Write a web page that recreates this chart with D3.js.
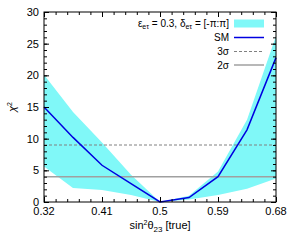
<!DOCTYPE html>
<html>
<head>
<meta charset="utf-8">
<script src="https://cdn.jsdelivr.net/npm/d3@7"></script>
<style>
  body { margin: 0; background: #fff; }
  text { font-family: "Liberation Sans", Arial, sans-serif; fill: #000; }
</style>
</head>
<body>
<script>
// data
var sin2 = [0.32, 0.365, 0.41, 0.455, 0.5, 0.545, 0.59, 0.635, 0.68];
var smChi2 = [15, 10.2, 5.8, 2.9, 0, 0.7, 4.0, 11.4, 22.8];
var bandHi = [20.1, 14.2, 9.4, 4.3, 0, 1.0, 4.8, 13.0, 26.2];
var bandLo = [5.6, 2.2, 1.9, 1.1, 0, 0.4, 1.1, 2.1, 3.7];
var xTicks = [0.32, 0.41, 0.5, 0.59, 0.68];
var yTicks = [0, 5, 10, 15, 20, 25, 30];
var sigma3 = 9, sigma2 = 4;

var width = 294,
    height = 245;

// plot box (note: "top" is taken by window.top, so use other names)
var plotL = 44, plotR = 276, plotT = 12, plotB = 202;

var x = d3.scaleLinear().domain([0.32, 0.68]).range([plotL, plotR]);
var y = d3.scaleLinear().domain([0, 30]).range([plotB, plotT]);

var svg = d3.select('body')
  .append('svg')
  .attr('width', width)
  .attr('height', height);

var pts = sin2.map(function(d, i) { return i; });

// cyan band
var area = d3.area()
  .x(function(i) { return x(sin2[i]); })
  .y0(function(i) { return y(bandLo[i]); })
  .y1(function(i) { return y(bandHi[i]); });

svg.append('path')
  .datum(pts)
  .attr('d', area)
  .attr('fill', '#80f8f8');

// sigma lines
svg.append('line')
  .attr('x1', plotL).attr('x2', plotR)
  .attr('y1', y(sigma3)).attr('y2', y(sigma3))
  .attr('stroke', '#808080')
  .attr('stroke-width', 1)
  .attr('stroke-dasharray', '3,2');

svg.append('line')
  .attr('x1', plotL).attr('x2', plotR)
  .attr('y1', y(sigma2)).attr('y2', y(sigma2))
  .attr('stroke', '#a0a0a0')
  .attr('stroke-width', 1.5);

// SM curve
var line = d3.line()
  .x(function(i) { return x(sin2[i]); })
  .y(function(i) { return y(smChi2[i]); });

svg.append('path')
  .datum(pts)
  .attr('d', line)
  .attr('fill', 'none')
  .attr('stroke', '#0000e0')
  .attr('stroke-width', 1.5);

// axes, gnuplot style: ticks inward on all four sides
var yMinor = d3.range(0, 31, 1);
var xMinor = d3.range(0, 21).map(function(k) { return 0.32 + k * 0.018; });

function tickRow(axisFn, scale, pos, vals, size) {
  var a = axisFn(scale).tickValues(vals).tickSize(size).tickFormat('');
  var g = svg.append('g').attr('transform', pos).call(a);
  g.select('.domain').remove();
  g.selectAll('line').attr('stroke', '#000');
}

tickRow(d3.axisRight, y, 'translate(' + plotL + ',0)', yMinor, 3);
tickRow(d3.axisRight, y, 'translate(' + plotL + ',0)', yTicks, 5);
tickRow(d3.axisLeft, y, 'translate(' + plotR + ',0)', yMinor, 3);
tickRow(d3.axisLeft, y, 'translate(' + plotR + ',0)', yTicks, 5);
tickRow(d3.axisTop, x, 'translate(0,' + plotB + ')', xMinor, 3);
tickRow(d3.axisTop, x, 'translate(0,' + plotB + ')', xTicks, 5);
tickRow(d3.axisBottom, x, 'translate(0,' + plotT + ')', xMinor, 3);
tickRow(d3.axisBottom, x, 'translate(0,' + plotT + ')', xTicks, 5);

// frame
svg.append('rect')
  .attr('x', plotL).attr('y', plotT)
  .attr('width', plotR - plotL).attr('height', plotB - plotT)
  .attr('fill', 'none')
  .attr('stroke', '#000')
  .attr('stroke-width', 1);

// tick labels
svg.selectAll('.ylab')
  .data(yTicks)
  .enter().append('text')
  .attr('x', plotL - 5)
  .attr('y', function(d) { return y(d) + 4; })
  .attr('text-anchor', 'end')
  .attr('font-size', 11)
  .text(function(d) { return d; });

svg.selectAll('.xlab')
  .data(xTicks)
  .enter().append('text')
  .attr('x', function(d) { return x(d); })
  .attr('y', 215)
  .attr('text-anchor', 'middle')
  .attr('font-size', 11)
  .text(function(d) { return d; });

// axis titles
var xt = svg.append('text')
  .attr('x', 160).attr('y', 229)
  .attr('text-anchor', 'middle')
  .attr('font-size', 11);
xt.append('tspan').text('sin');
xt.append('tspan').attr('dy', -4).attr('font-size', 7).text('2');
xt.append('tspan').attr('dy', 4).text('θ');
xt.append('tspan').attr('dy', 3).attr('font-size', 8).text('23');
xt.append('tspan').attr('dy', -3).text(' [true]');

var yt = svg.append('text')
  .attr('transform', 'translate(16,107) rotate(-90)')
  .attr('text-anchor', 'middle')
  .attr('font-size', 11);
yt.append('tspan').attr('font-style', 'italic').text('χ');
yt.append('tspan').attr('dy', -4).attr('font-size', 7).text('2');

// legend
var lx = 229, sx0 = 234, sx1 = 264;
var rows = [23.5, 37.5, 51.5, 65];

var lt = svg.append('text')
  .attr('x', lx).attr('y', rows[0] + 3)
  .attr('text-anchor', 'end')
  .attr('font-size', 10);
lt.append('tspan').text('ε');
lt.append('tspan').attr('dy', 2).attr('font-size', 7).text('eτ');
lt.append('tspan').attr('dy', -2).text(' = 0.3, δ');
lt.append('tspan').attr('dy', 2).attr('font-size', 7).text('eτ');
lt.append('tspan').attr('dy', -2).text(' = [-π:π]');

svg.append('rect')
  .attr('x', sx0).attr('y', rows[0] - 4)
  .attr('width', sx1 - sx0).attr('height', 8)
  .attr('fill', '#80f8f8');

var legendLines = [
  { label: 'SM', color: '#0000e0', w: 1.5, dash: null },
  { label: '3σ', color: '#808080', w: 1, dash: '3,2' },
  { label: '2σ', color: '#a0a0a0', w: 1.5, dash: null }
];

legendLines.forEach(function(d, i) {
  var ry = rows[i + 1];
  svg.append('text')
    .attr('x', lx).attr('y', ry + 3.5)
    .attr('text-anchor', 'end')
    .attr('font-size', 10)
    .text(d.label);
  svg.append('line')
    .attr('x1', sx0).attr('x2', sx1)
    .attr('y1', ry).attr('y2', ry)
    .attr('stroke', d.color)
    .attr('stroke-width', d.w)
    .attr('stroke-dasharray', d.dash);
});
</script>
</body>
</html>
